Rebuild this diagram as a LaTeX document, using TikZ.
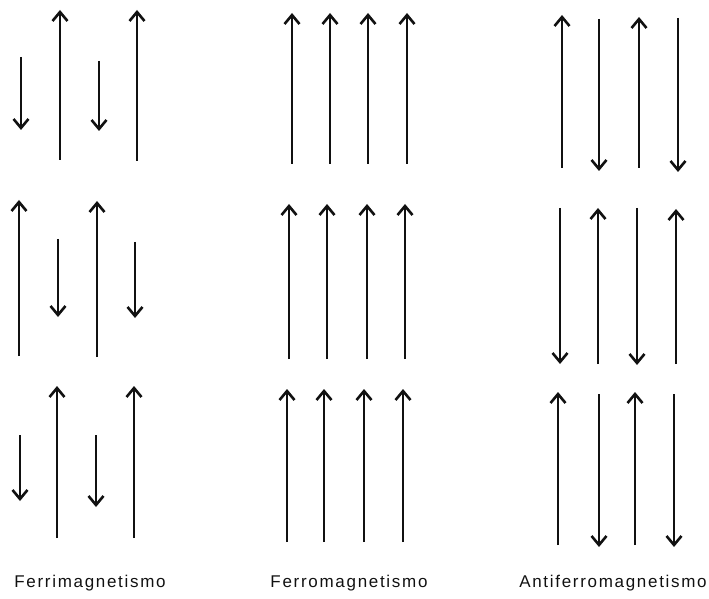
\documentclass[tikz,border=0pt]{standalone}
\usepackage{fontspec}
\usetikzlibrary{arrows.meta}
\newfontfamily\mgfont{Liberation Sans}[LetterSpace=10]
\definecolor{mgInk}{HTML}{111111}
\newcommand{\MGType}{\mgfont\fontsize{17}{20}\selectfont}
\tikzset{mg/base/.style={x=1pt,y=1pt,line cap=butt,line join=miter,
  every node/.style={font=\MGType,inner sep=0pt,text=mgInk}},
  mg/spin/.style={-{Straight Barb[length=9pt,width=15pt,line width=2.6pt]},draw=mgInk,line width=1.3pt},
  mg/label/.style={anchor=base}}
\begin{document}
\begin{tikzpicture}[mg/base]
  \useasboundingbox (0,0) rectangle (709,598);
  % Ferrimagnetismo: long and short moments, opposite
  \foreach \x/\a/\b in {21/541/468,60/438/588,99/537/467,137/437/588,
    19/242/398,58/359/281,97/241/397,135/356/280,
    20/163/97,57/60/212,96/163/91,134/60/212}{%
    \draw[mg/spin] (\x,\a)--(\x,\b);}
  % Ferromagnetismo: all up
  \foreach \x/\a/\b in {292/434/585,330/434/585,368/434/585,407/434/585,
    289/239/394,327/239/394,367/239/394,405/239/394,
    287/56/209,324/56/209,364/56/209,403/56/209}{%
    \draw[mg/spin] (\x,\a)--(\x,\b);}
  % Antiferromagnetismo: equal moments, alternating
  \foreach \x/\a/\b in {562/430/583,599/579/427,639/430/581,678/580/426,
    560/390/234,598/234/390,637/390/233,676/234/389,
    558/53/206,599/204/51,635/53/206,674/204/51}{%
    \draw[mg/spin] (\x,\a)--(\x,\b);}
  \node[mg/label] (ferri) at (90,11) {Ferrimagnetismo};
  \node[mg/label] (ferro) at (349,11) {Ferromagnetismo};
  \node[mg/label] (antiferro) at (613,11) {Antiferromagnetismo};
\end{tikzpicture}
\end{document}
